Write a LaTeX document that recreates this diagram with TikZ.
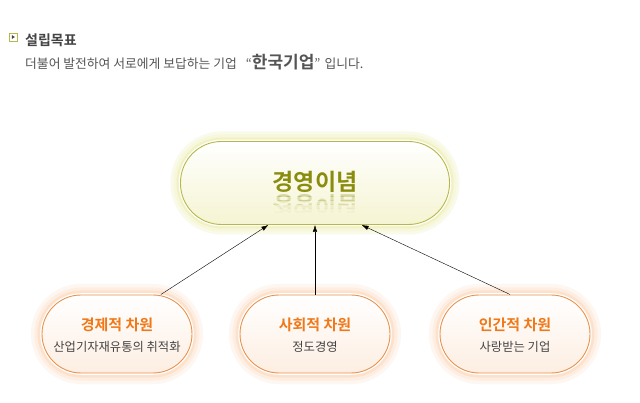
\documentclass[tikz,border=0pt]{standalone}
\usepackage{fontspec}
\setmainfont{Noto Sans CJK KR}[BoldFont={Noto Sans CJK KR Bold}]
\usetikzlibrary{arrows.meta}
\definecolor{visionolive}{HTML}{8A8C0E}
\definecolor{visionedge}{HTML}{B6B848}
\definecolor{visionglow}{HTML}{F1F1C4}
\definecolor{visionfill}{HTML}{F5F4D2}
\definecolor{aimorange}{HTML}{F07818}
\definecolor{aimedge}{HTML}{E8924C}
\definecolor{aimglow}{HTML}{FCDDC4}
\definecolor{aimfill}{HTML}{FDEEE2}
\definecolor{textgray}{HTML}{555555}
\definecolor{darkgray}{HTML}{444444}

\tikzset{
  vision/.style={rectangle, rounded corners=41pt, minimum width=269pt, minimum height=83pt,
    draw=visionedge, line width=0.9pt, top color=white, bottom color=visionfill,
    preaction={draw=visionglow!35, line width=20pt},
    preaction={draw=visionglow!60, line width=14pt},
    preaction={draw=visionglow, line width=8pt},
    preaction={draw=white, line width=3.5pt}},
  aim/.style={rectangle, rounded corners=39pt, minimum width=150pt, minimum height=78pt,
    draw=aimedge, line width=0.9pt, top color=white, bottom color=aimfill,
    preaction={draw=aimglow!25, line width=22pt},
    preaction={draw=aimglow!50, line width=15pt},
    preaction={draw=aimglow!85, line width=9pt},
    preaction={draw=white, line width=3.5pt}},
  aimtitle/.style={font=\fontsize{15}{18}\selectfont\bfseries, text=aimorange},
  aimtext/.style={font=\fontsize{12.3}{14}\selectfont, text=darkgray}
}

\begin{document}
\begin{tikzpicture}[x=1pt, y=-1pt, >={Latex[length=7pt,width=4.5pt]}]
  \useasboundingbox[fill=white] (0,0) rectangle (640,403);

  % header
  \node[draw=visionedge, line width=0.8pt, minimum size=8pt, inner sep=0pt] (bullet) at (13,37) {};
  \fill[darkgray] (11.8,35) -- (14.8,37) -- (11.8,39) -- cycle;
  \node[anchor=west, inner sep=0pt, text=darkgray, font=\fontsize{14}{16}\selectfont\bfseries] (goal) at (25,40) {설립목표};
  \node[anchor=west, inner sep=0pt, text=textgray, font=\fontsize{12.8}{15}\selectfont] (goaltext) at (25,62)
    {더불어 발전하여 서로에게 보답하는 기업\hspace{9pt}“{\fontsize{17}{18}\selectfont\bfseries 한국기업}”\hspace{4pt}입니다.};

  % management philosophy
  \node[vision] (philo) at (315,183) {};
  \node[text=visionolive, font=\fontsize{23}{26}\selectfont\bfseries] (philotitle) at (315,182) {경영이념};
  \foreach \top/\op in {193/.32, 197/.24, 201/.16, 205/.09, 209/.04} {
    \begin{scope}
      \clip (260,\top) rectangle (370,\top+4);
      \node[text=visionolive, opacity=\op, font=\fontsize{23}{26}\selectfont\bfseries, yscale=-1] (philomirror) at (315,205) {경영이념};
    \end{scope}
  }

  % three dimensions
  \node[aim] (econ) at (117,334) {};
  \node[aimtitle] (econtitle) at (117,325) {경제적 차원};
  \node[aimtext] (econtext) at (117,347) {산업기자재유통의 취적화};

  \node[aim] (social) at (315,334) {};
  \node[aimtitle] (socialtitle) at (315,325) {사회적 차원};
  \node[aimtext] (socialtext) at (315,347) {정도경영};

  \node[aim] (human) at (515,334) {};
  \node[aimtitle] (humantitle) at (515,325) {인간적 차원};
  \node[aimtext] (humantext) at (515,347) {사랑받는 기업};

  \draw[->] (econ.42) -- (philo.-138);
  \draw[->] (social.north) -- (philo.south);
  \draw[->] (human.97) -- (philo.-42);
\end{tikzpicture}
\end{document}
